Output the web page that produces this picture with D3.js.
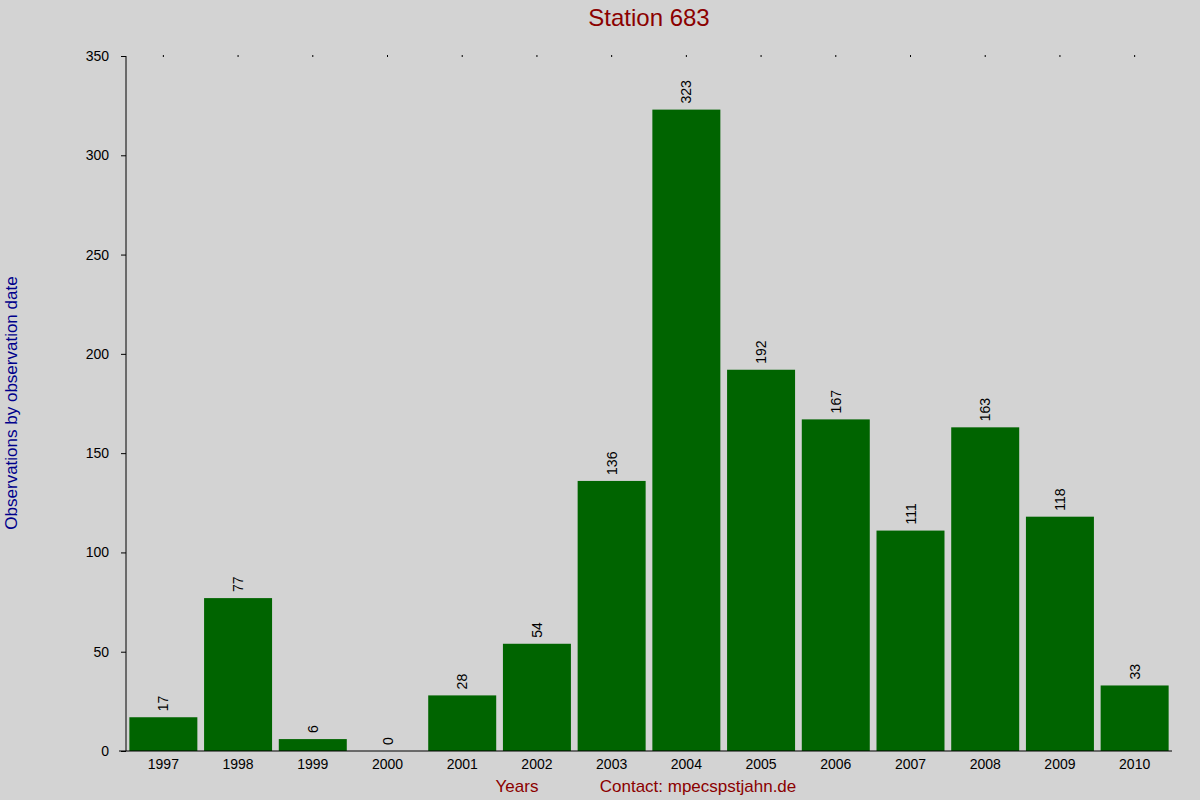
<!DOCTYPE html>
<html><head><meta charset="utf-8">
<script src="https://cdn.jsdelivr.net/npm/d3@7"></script>
<style>body{margin:0;background:#d3d3d3}text{font-family:"Liberation Sans",Arial,sans-serif}</style>
</head><body>
<svg id="chart" width="1200" height="800"></svg>
<script>
var years=["1997","1998","1999","2000","2001","2002","2003","2004","2005","2006","2007","2008","2009","2010"];
var counts=[17,77,6,0,28,54,136,323,192,167,111,163,118,33];
var yTicks=[0,50,100,150,200,250,300,350];

var svg=d3.select("#chart");
svg.append("rect").attr("width",1200).attr("height",800).attr("fill","#d3d3d3");

var x=d3.scaleBand().domain(years).range([126,1172]).paddingInner(0.09).paddingOuter(0.045);
var y=d3.scaleLinear().domain([0,350]).range([751,56]);

svg.selectAll(".bar").data(counts).enter().append("rect")
  .attr("class","bar")
  .attr("x",(d,i)=>x(years[i]))
  .attr("y",d=>y(d))
  .attr("width",x.bandwidth())
  .attr("height",d=>y(0)-y(d))
  .attr("fill","#006400");

svg.selectAll(".val").data(counts).enter().append("text")
  .attr("class","val")
  .attr("transform",(d,i)=>`translate(${x(years[i])+x.bandwidth()/2+5},${y(d)-6}) rotate(-90)`)
  .attr("font-size",14).attr("fill","#000")
  .text(d=>d);

// axes
var ya=svg.append("g").attr("transform","translate(126,0)")
  .call(d3.axisLeft(y).tickValues(yTicks).tickSize(5).tickPadding(12));
ya.select(".domain").attr("stroke","#000").attr("d","M0,56V751");
ya.selectAll("text").attr("font-size",14).attr("fill","#000");

var xa=svg.append("g").attr("transform","translate(0,751)")
  .call(d3.axisBottom(x).tickSize(0).tickPadding(8));
xa.select(".domain").attr("stroke","#000").attr("d","M119,0H1172");
xa.selectAll("text").attr("font-size",14).attr("fill","#000");

svg.selectAll(".dot").data(years).enter().append("rect")
  .attr("x",d=>x(d)+x.bandwidth()/2-0.5).attr("y",55).attr("width",1).attr("height",2).attr("fill","#000");

svg.append("text").attr("x",649).attr("y",26).attr("text-anchor","middle")
  .attr("font-size",24).attr("fill","#8b0000").text("Station 683");
svg.append("text").attr("transform","translate(17,403) rotate(-90)").attr("text-anchor","middle")
  .attr("font-size",17).attr("fill","#00008b").text("Observations by observation date");
svg.append("text").attr("x",517).attr("y",792).attr("text-anchor","middle")
  .attr("font-size",17).attr("fill","#8b0000").text("Years");
svg.append("text").attr("x",698).attr("y",792).attr("text-anchor","middle")
  .attr("font-size",17).attr("fill","#8b0000").text("Contact: mpecspstjahn.de");
</script>
</body></html>
